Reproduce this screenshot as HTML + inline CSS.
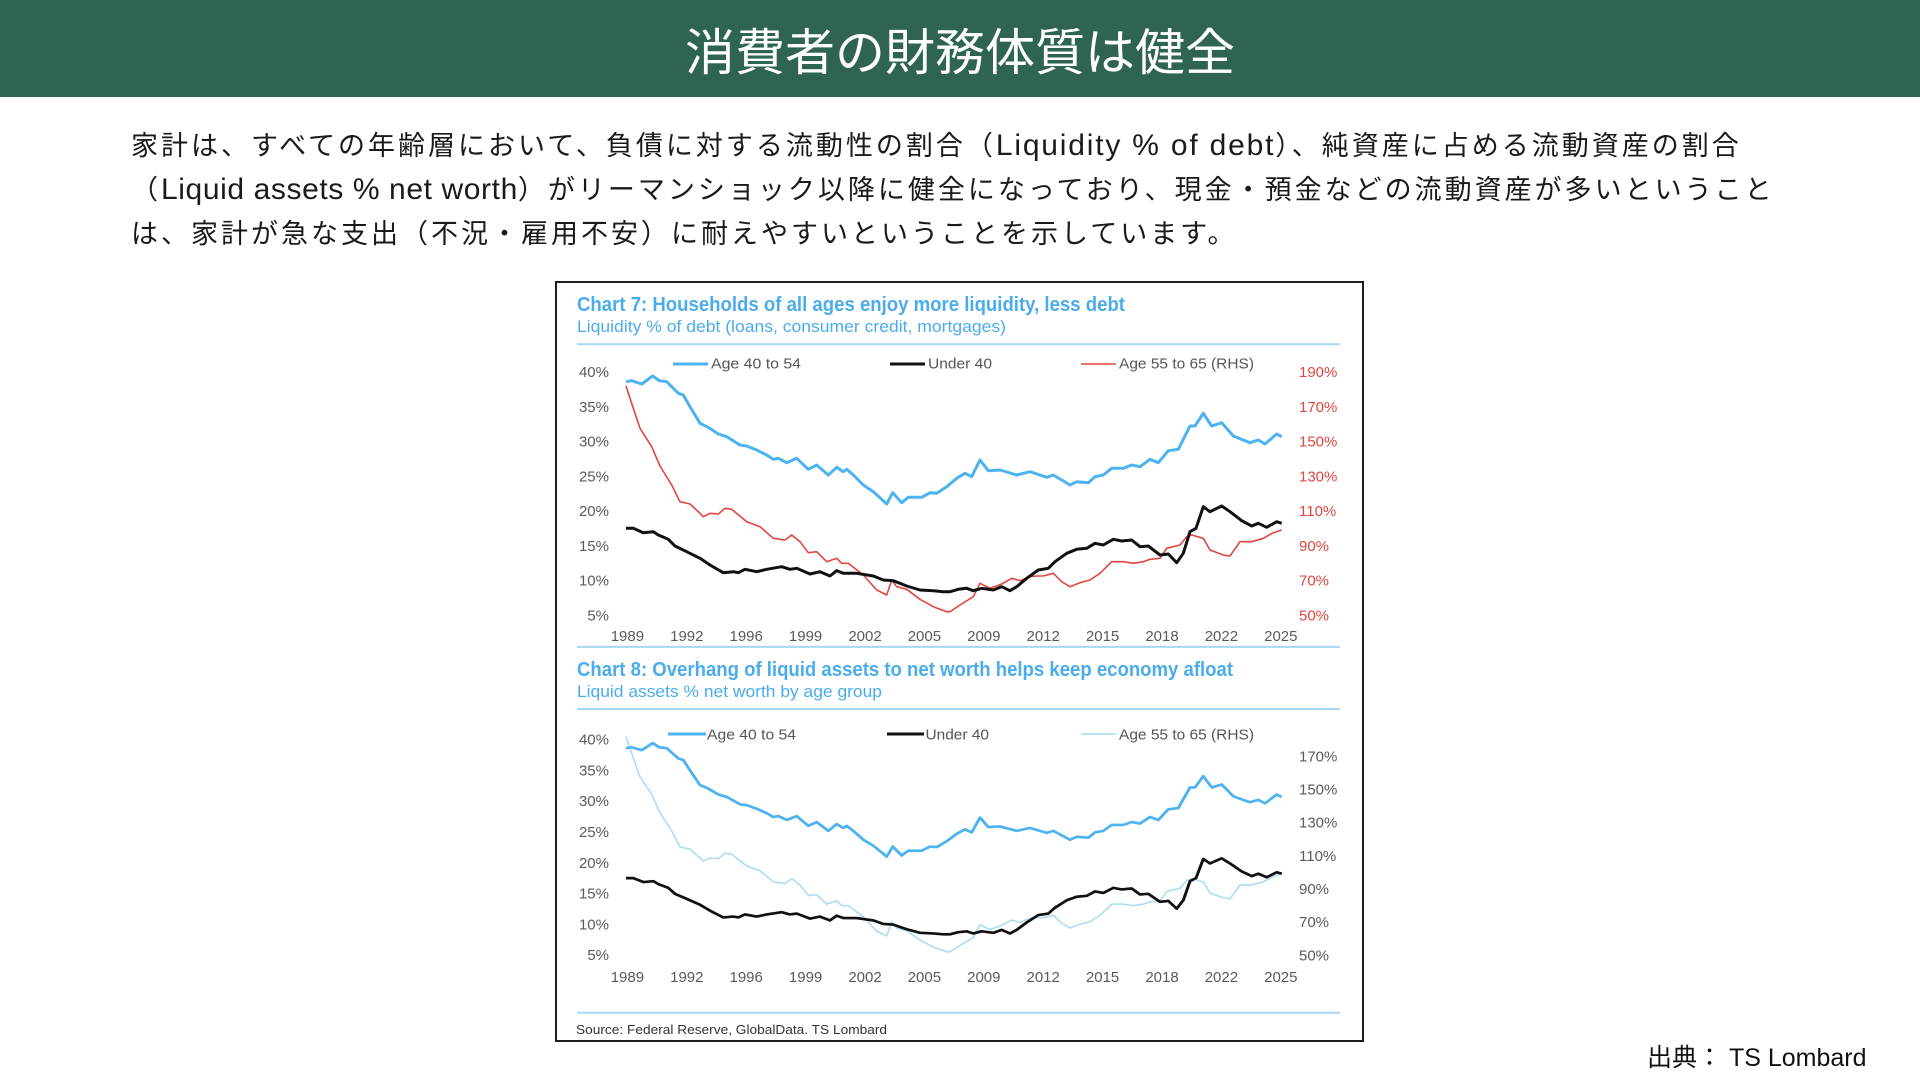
<!DOCTYPE html>
<html lang="ja">
<head>
<meta charset="utf-8">
<style>
  html,body{margin:0;padding:0;background:#fff;}
  #wrap{position:relative;width:1920px;height:1080px;overflow:hidden;background:#fff;}
  svg{position:absolute;left:0;top:0;}
  .body{position:absolute;left:131px;white-space:nowrap;color:#1a1a1a;
    font-family:"Liberation Sans","Noto Sans CJK JP",sans-serif;font-size:27px;letter-spacing:3px;line-height:45px;height:45px;}
  .l{font-size:30px;letter-spacing:0;line-height:45px;}
</style>
</head>
<body>
<div id="wrap">
<svg width="1920" height="1080" viewBox="0 0 1920 1080" xmlns="http://www.w3.org/2000/svg">
  <!-- header -->
  <rect x="0" y="0" width="1920" height="97" fill="#2E6450"/>
  <text x="960" y="70" text-anchor="middle" fill="#ffffff" font-size="50" font-family="Liberation Sans, Noto Sans CJK JP, sans-serif">消費者の財務体質は健全</text>

  <!-- chart box -->
  <rect x="556" y="282" width="807" height="759" fill="#ffffff" stroke="#1e1e1e" stroke-width="2"/>

  <g font-family="Liberation Sans, sans-serif">
    <!-- Chart 7 titles -->
    <text x="577" y="311" font-size="20" font-weight="bold" fill="#4BACEB" textLength="548" lengthAdjust="spacingAndGlyphs">Chart 7: Households of all ages enjoy more liquidity, less debt</text>
    <text x="577" y="332" font-size="17" fill="#4BACEB" textLength="429" lengthAdjust="spacingAndGlyphs">Liquidity % of debt (loans, consumer credit, mortgages)</text>
    <line x1="577" y1="344.3" x2="1340" y2="344.3" stroke="#A7D7F4" stroke-width="2"/>
    <line x1="577" y1="646.9" x2="1340" y2="646.9" stroke="#A7D7F4" stroke-width="2"/>

    <!-- Chart 7 legend -->
    <line x1="673" y1="364" x2="708" y2="364" stroke="#4DB3F0" stroke-width="3"/>
    <text x="711" y="368.5" font-size="15" fill="#555" textLength="90" lengthAdjust="spacingAndGlyphs">Age 40 to 54</text>
    <line x1="890" y1="364" x2="925" y2="364" stroke="#111" stroke-width="3"/>
    <text x="928" y="368.5" font-size="15" fill="#555" textLength="64" lengthAdjust="spacingAndGlyphs">Under 40</text>
    <line x1="1081" y1="364" x2="1116" y2="364" stroke="#E0463F" stroke-width="1.6"/>
    <text x="1119" y="368.5" font-size="15" fill="#555" textLength="135" lengthAdjust="spacingAndGlyphs">Age 55 to 65 (RHS)</text>

    <!-- Chart 7 left axis -->
    <g font-size="15" fill="#5a5a5a" text-anchor="end">
      <text x="609" y="377">40%</text>
      <text x="609" y="411.8">35%</text>
      <text x="609" y="446.5">30%</text>
      <text x="609" y="481.3">25%</text>
      <text x="609" y="516">20%</text>
      <text x="609" y="550.8">15%</text>
      <text x="609" y="585.6">10%</text>
      <text x="609" y="620.3">5%</text>
    </g>
    <!-- Chart 7 right axis -->
    <g font-size="15" fill="#E0463F">
      <text x="1299" y="377">190%</text>
      <text x="1299" y="411.8">170%</text>
      <text x="1299" y="446.5">150%</text>
      <text x="1299" y="481.3">130%</text>
      <text x="1299" y="516">110%</text>
      <text x="1299" y="550.8">90%</text>
      <text x="1299" y="585.6">70%</text>
      <text x="1299" y="620.3">50%</text>
    </g>
    <!-- Chart 7 x axis -->
    <g font-size="15" fill="#5a5a5a" text-anchor="middle">
      <text x="627.4" y="641">1989</text>
      <text x="686.8" y="641">1992</text>
      <text x="746.2" y="641">1996</text>
      <text x="805.6" y="641">1999</text>
      <text x="865" y="641">2002</text>
      <text x="924.4" y="641">2005</text>
      <text x="983.8" y="641">2009</text>
      <text x="1043.2" y="641">2012</text>
      <text x="1102.6" y="641">2015</text>
      <text x="1162" y="641">2018</text>
      <text x="1221.4" y="641">2022</text>
      <text x="1280.8" y="641">2025</text>
    </g>

    <!-- Chart 8 titles -->
    <text x="577" y="676" font-size="20" font-weight="bold" fill="#4BACEB" textLength="656" lengthAdjust="spacingAndGlyphs">Chart 8: Overhang of liquid assets to net worth helps keep economy afloat</text>
    <text x="577" y="697" font-size="17" fill="#4BACEB" textLength="305" lengthAdjust="spacingAndGlyphs">Liquid assets % net worth by age group</text>
    <line x1="577" y1="709" x2="1340" y2="709" stroke="#A7D7F4" stroke-width="2"/>
    <line x1="577" y1="1012.7" x2="1340" y2="1012.7" stroke="#A7D7F4" stroke-width="2"/>

    <!-- Chart 8 legend -->
    <line x1="668" y1="734" x2="706" y2="734" stroke="#4DB3F0" stroke-width="3"/>
    <text x="707" y="739.5" font-size="15" fill="#555" textLength="89" lengthAdjust="spacingAndGlyphs">Age 40 to 54</text>
    <line x1="887" y1="734" x2="924" y2="734" stroke="#111" stroke-width="3"/>
    <text x="925.5" y="739.5" font-size="15" fill="#555" textLength="63.5" lengthAdjust="spacingAndGlyphs">Under 40</text>
    <line x1="1081" y1="734" x2="1116" y2="734" stroke="#A9DBF7" stroke-width="1.6"/>
    <text x="1119" y="739.5" font-size="15" fill="#555" textLength="135" lengthAdjust="spacingAndGlyphs">Age 55 to 65 (RHS)</text>

    <!-- Chart 8 left axis -->
    <g font-size="15" fill="#5a5a5a" text-anchor="end">
      <text x="609" y="744.6">40%</text>
      <text x="609" y="775.4">35%</text>
      <text x="609" y="806.2">30%</text>
      <text x="609" y="837">25%</text>
      <text x="609" y="867.8">20%</text>
      <text x="609" y="898.6">15%</text>
      <text x="609" y="929.4">10%</text>
      <text x="609" y="960.2">5%</text>
    </g>
    <!-- Chart 8 right axis -->
    <g font-size="15" fill="#5a5a5a">
      <text x="1299" y="761.3">170%</text>
      <text x="1299" y="794.5">150%</text>
      <text x="1299" y="827.6">130%</text>
      <text x="1299" y="860.8">110%</text>
      <text x="1299" y="894">90%</text>
      <text x="1299" y="927.2">70%</text>
      <text x="1299" y="960.3">50%</text>
    </g>
    <!-- Chart 8 x axis -->
    <g font-size="15" fill="#5a5a5a" text-anchor="middle">
      <text x="627.4" y="982">1989</text>
      <text x="686.8" y="982">1992</text>
      <text x="746.2" y="982">1996</text>
      <text x="805.6" y="982">1999</text>
      <text x="865" y="982">2002</text>
      <text x="924.4" y="982">2005</text>
      <text x="983.8" y="982">2009</text>
      <text x="1043.2" y="982">2012</text>
      <text x="1102.6" y="982">2015</text>
      <text x="1162" y="982">2018</text>
      <text x="1221.4" y="982">2022</text>
      <text x="1280.8" y="982">2025</text>
    </g>

    <text x="576" y="1034" font-size="13" fill="#333" textLength="311" lengthAdjust="spacingAndGlyphs">Source: Federal Reserve, GlobalData. TS Lombard</text>
  </g>

  <defs>
    <polyline id="blue" fill="none" points="626,381.7 631.7,380.7 641.7,384 652.7,376 659.3,380.7 666.7,381.7 678.3,393.3 683.3,395 690,406.7 700,423.3 708.3,427.3 718.3,434 726.7,436.7 740,445 746.7,446 756.7,450 766.7,455 773.3,459.3 778.3,458.3 786.7,462.7 796.7,458.3 808.3,469.3 816.7,465 828.3,475 836.7,467.3 843.3,471.7 846.7,469.3 853.3,475 863.3,485 873.3,491.7 886.7,504 892.7,492.7 901.7,502.7 908.3,497.3 921.7,497.3 930,492.7 936.7,493.3 946.7,486.7 956.7,478.3 965,473.3 971.7,476.7 980,460 988.3,470.7 1000,470 1016.7,475 1030,471.7 1046.7,477.3 1053.3,475 1070,485 1076.7,481.7 1088.3,482.7 1095,476.7 1103.3,475 1111.7,468.3 1123.3,468.3 1131.7,465 1140,466.7 1150,459.3 1158.3,462.7 1168.3,450.7 1178.3,449.3 1190,426 1195,426 1203.3,413.3 1211.7,426 1221.7,422.7 1233.3,436 1250,442.7 1258.3,440 1265,444 1276.7,434 1281.7,436.7"/>
    <polyline id="black" fill="none" points="626,528.3 633.3,528.3 643.3,532.7 653.3,531.7 658.3,535 668.3,539.3 675,546 686.7,551.7 700,558.3 710,565 723.3,572.7 733.3,571.7 738.3,572.7 745,569.3 756.7,571.7 766.7,569.3 781.7,566.7 790,569.3 796.7,568.3 810,574 820,571.7 830,576 836.7,570.7 843.3,573.3 856.7,573.3 873.3,576 883.3,580 893.3,580.7 906.7,586 920,590 933.3,590.7 943.3,591.7 950,591.7 958.3,589.3 966.7,588.3 973.3,590.7 981.7,588.3 993.3,590 1001.7,586.7 1010,590.7 1016.7,586.7 1026.7,578.3 1038.3,570 1048.3,568.3 1055,561.7 1066.7,553.3 1076.7,549.3 1086.7,548.3 1095,543.3 1103.3,545 1113.3,539.3 1121.7,541 1131.7,540 1140,546.7 1148.3,546 1160,555 1168.3,554 1176.7,562.7 1183.3,553.3 1190,531.7 1196,528.3 1203.3,506.7 1210,511.7 1221.7,506 1230,511.7 1241.7,520.7 1251.7,526 1258.3,523.3 1266.7,527.3 1276.7,521.7 1281.7,523.3"/>
    <polyline id="red" fill="none" points="626,386 633.3,408.3 640,428.3 651.7,446.7 660,466 671.7,485 680,501.7 690,504 700,513.3 703.3,516.7 710,513.3 718.3,514 725,508.3 731.7,509.3 746.7,521.7 760,526.7 773.3,538.3 785,540 791.7,535 800,541.7 808.3,552.7 816.7,551.7 826.7,561.7 836.7,558.3 841.7,563.3 848.3,563.3 863.3,575 876.7,590 886.7,595 891.7,580 896.7,586.7 906.7,589.3 920,599.3 933.3,606.7 946.7,611.7 950,611.7 960,605 973.3,596.7 980,583.3 990,588.3 1001.7,584 1011.7,578.3 1020,580.7 1030,576.7 1036.7,576 1043.3,576 1053.3,573.3 1061.7,581.7 1070,586.7 1080,582.7 1090,580 1100,573.3 1111.7,561.7 1123.3,561.7 1133.3,563.3 1143.3,561.7 1150,559.3 1160,558.3 1166.7,548.3 1180,545 1186.7,536.7 1191.7,535 1203.3,538.3 1210,550 1223.3,555 1230,556 1240,541.7 1251.7,541.7 1263.3,538.3 1273.3,532.7 1281.7,530"/>
  </defs>

  <!-- Chart 7 series -->
  <use href="#red" stroke="#E0463F" stroke-width="1.6" stroke-linejoin="round"/>
  <use href="#blue" stroke="#4DB3F0" stroke-width="3" stroke-linejoin="round"/>
  <use href="#black" stroke="#111" stroke-width="3" stroke-linejoin="round"/>

  <!-- Chart 8 series -->
  <g transform="translate(0,368.29) scale(1,0.954)">
    <use href="#red" stroke="#A9DBF7" stroke-width="1.6" stroke-linejoin="round" vector-effect="non-scaling-stroke"/>
  </g>
  <g transform="translate(0,409.79) scale(1,0.8865)">
    <use href="#blue" stroke="#4DB3F0" stroke-width="3" stroke-linejoin="round" vector-effect="non-scaling-stroke"/>
    <use href="#black" stroke="#111" stroke-width="3" stroke-linejoin="round" vector-effect="non-scaling-stroke"/>
  </g>

  <!-- footer -->
  <text x="1647" y="1066" font-size="25" fill="#111" font-family="Liberation Sans, Noto Sans CJK JP, sans-serif">出典： TS Lombard</text>
</svg>

<div class="body" style="top:123px;">家計は、すべての年齢層において、負債に対する流動性の割合（<span class="l" style="letter-spacing:1.8px;">Liquidity % of debt</span>）、純資産に占める流動資産の割合</div>
<div class="body" style="top:167px;">（<span class="l" style="letter-spacing:0.6px;">Liquid assets % net worth</span>）がリーマンショック以降に健全になっており、現金・預金などの流動資産が多いということ</div>
<div class="body" style="top:212px;">は、家計が急な支出（不況・雇用不安）に耐えやすいということを示しています。</div>
</div>
</body>
</html>
